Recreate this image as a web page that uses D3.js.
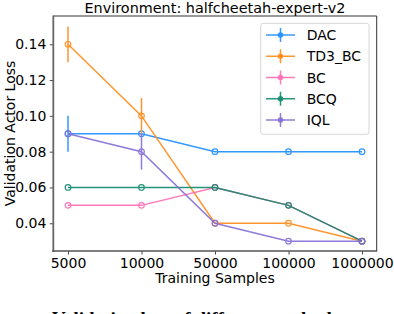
<!doctype html>
<meta charset="utf-8">
<title>halfcheetah-expert-v2</title>
<style>
  body { margin: 0; background: #fff; }
  svg { display: block; font-family: "DejaVu Sans", sans-serif; }
</style>
<body>
<script src="https://cdn.jsdelivr.net/npm/d3@7"></script>
<script>

    // data
    var samples = ["5000", "10000", "50000", "100000", "1000000"];
    var methods = ["DAC", "TD3_BC", "BC", "BCQ", "IQL"];
    var colors = ["#2190ff", "#ff8d1e", "#ff6eb4", "#13896f", "#8670d6"];
    var dacLoss = [0.09, 0.09, 0.08, 0.08, 0.08];
    var dacErr = [0.01, 0, 0, 0, 0];
    var td3Loss = [0.14, 0.10, 0.04, 0.04, 0.03];
    var td3Err = [0.01, 0.01, 0, 0, 0];
    var bcLoss = [0.05, 0.05, 0.06, 0.05, 0.03];
    var bcErr = [0, 0, 0, 0, 0];
    var bcqLoss = [0.06, 0.06, 0.06, 0.05, 0.03];
    var bcqErr = [0, 0, 0, 0, 0];
    var iqlLoss = [0.09, 0.08, 0.04, 0.03, 0.03];
    var iqlErr = [0, 0.01, 0, 0, 0];
    var yTicks = [0.04, 0.06, 0.08, 0.10, 0.12, 0.14];

    var losses = [dacLoss, td3Loss, bcLoss, bcqLoss, iqlLoss];
    var errors = [dacErr, td3Err, bcErr, bcqErr, iqlErr];

    var width = 394, height = 314;
    var axLeft = 53.3, axRight = 376.7, axTop = 16, axBottom = 251;

    var svg = d3.select("body").append("svg")
        .attr("width", width)
        .attr("height", height);

    var x = d3.scaleLinear().domain([-0.2, samples.length - 1 + 0.2]).range([axLeft, axRight]);
    var y = d3.scaleLinear().domain([0.0245, 0.1558]).range([axBottom, axTop]);

    // axes
    var xAxis = d3.axisBottom(x)
        .tickValues(d3.range(samples.length))
        .tickFormat(function(i) { return samples[i]; })
        .tickSize(3.5).tickPadding(3.5);
    var yAxis = d3.axisLeft(y)
        .tickValues(yTicks)
        .tickFormat(d3.format(".2f"))
        .tickSize(3.5).tickPadding(3.5);

    var gx = svg.append("g").attr("transform", "translate(0," + axBottom + ")").call(xAxis);
    var gy = svg.append("g").attr("transform", "translate(" + axLeft + ",0)").call(yAxis);
    [gx, gy].forEach(function(g) {
        g.select(".domain").remove();
        g.selectAll(".tick line").attr("stroke", "#333").attr("stroke-width", 0.9);
        g.selectAll(".tick text")
            .attr("fill", "#000")
            .attr("font-size", "14px")
            .attr("font-family", "DejaVu Sans, sans-serif");
    });

    // spines
    svg.append("line").attr("x1", axRight).attr("x2", axRight).attr("y1", axTop).attr("y2", axBottom)
        .attr("stroke", "#333").attr("stroke-width", 1);
    svg.append("line").attr("x1", axLeft).attr("x2", axRight).attr("y1", axTop).attr("y2", axTop)
        .attr("stroke", "#333").attr("stroke-width", 1);
    svg.append("line").attr("x1", axLeft).attr("x2", axLeft).attr("y1", axTop - 0.5).attr("y2", axBottom + 1)
        .attr("stroke", "#666").attr("stroke-width", 1.8);
    svg.append("line").attr("x1", axLeft - 0.9).attr("x2", axRight + 0.5).attr("y1", axBottom).attr("y2", axBottom)
        .attr("stroke", "#555").attr("stroke-width", 1.6);

    // series
    var line = d3.line()
        .x(function(d, i) { return x(i); })
        .y(function(d) { return y(d); });

    methods.forEach(function(m, k) {
        var g = svg.append("g").attr("opacity", 0.92);
        g.append("path")
            .datum(losses[k])
            .attr("d", line)
            .attr("fill", "none")
            .attr("stroke", colors[k])
            .attr("stroke-width", 1.5);
        losses[k].forEach(function(v, i) {
            var e = errors[k][i];
            if (e > 0) {
                g.append("line")
                    .attr("x1", x(i)).attr("x2", x(i))
                    .attr("y1", y(v - e)).attr("y2", y(v + e))
                    .attr("stroke", colors[k])
                    .attr("stroke-width", 1.5);
            }
            g.append("circle")
                .attr("cx", x(i)).attr("cy", y(v))
                .attr("r", 2.8)
                .attr("fill", "none")
                .attr("stroke", colors[k])
                .attr("stroke-width", 1.2);
        });
    });

    // legend
    var leg = svg.append("g");
    leg.append("rect")
        .attr("x", 260.7).attr("y", 23.3)
        .attr("width", 108.3).attr("height", 111)
        .attr("rx", 2.5)
        .attr("fill", "#fff").attr("fill-opacity", 0.8)
        .attr("stroke", "#d6d6d6").attr("stroke-width", 1);

    methods.forEach(function(m, k) {
        var cy = 35 + k * 21.25;
        leg.append("line")
            .attr("x1", 266).attr("x2", 295).attr("y1", cy).attr("y2", cy)
            .attr("stroke", colors[k]).attr("stroke-width", 1.5).attr("opacity", 0.9);
        leg.append("line")
            .attr("x1", 280.5).attr("x2", 280.5).attr("y1", cy - 7).attr("y2", cy + 7)
            .attr("stroke", colors[k]).attr("stroke-width", 1.5).attr("opacity", 0.9);
        leg.append("circle")
            .attr("cx", 280.5).attr("cy", cy).attr("r", 2.8)
            .attr("fill", colors[k]).attr("opacity", 0.9);
        leg.append("text")
            .attr("x", 306.7).attr("y", cy + 5)
            .attr("font-size", "14px")
            .text(m);
    });

    // titles
    svg.append("text")
        .attr("x", (axLeft + axRight) / 2).attr("y", 12.5)
        .attr("text-anchor", "middle")
        .attr("font-size", "14.4px")
        .text("Environment: halfcheetah-expert-v2");

    svg.append("text")
        .attr("x", (axLeft + axRight) / 2).attr("y", 283)
        .attr("text-anchor", "middle")
        .attr("font-size", "14px")
        .text("Training Samples");

    svg.append("text")
        .attr("transform", "translate(14.5," + ((axTop + axBottom) / 2) + ") rotate(-90)")
        .attr("text-anchor", "middle")
        .attr("font-size", "14px")
        .text("Validation Actor Loss");

    // caption below the figure, cut by the page edge
    svg.append("text")
        .attr("x", 52).attr("y", 325)
        .attr("font-family", "Liberation Serif, serif")
        .attr("font-weight", "bold")
        .attr("font-size", "19px")
        .text("Validation loss of different methods");

</script>
</body>
